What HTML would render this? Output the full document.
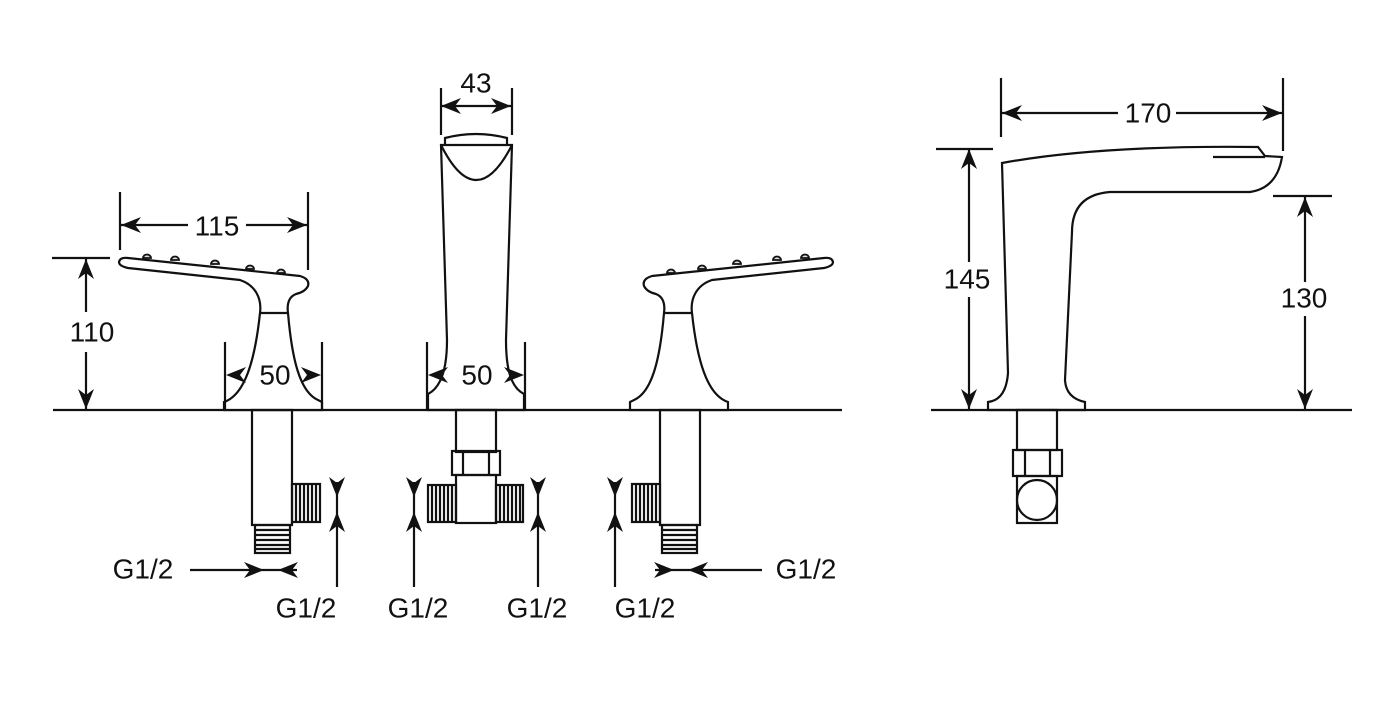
<!DOCTYPE html>
<html><head><meta charset="utf-8"><style>
html,body{margin:0;padding:0;background:#fff;}
svg{display:block;}
text{font-family:"Liberation Sans",Arial,sans-serif;font-size:28px;fill:#111;text-anchor:middle;dominant-baseline:central;}
</style></head><body>
<svg width="1398" height="703" viewBox="0 0 1398 703" xmlns="http://www.w3.org/2000/svg">
<defs>
<path id="ah" d="M0,0 L-20,-8 L-14,0 L-20,8 Z" fill="#111"/>
<g id="handle" fill="none" stroke="#111" stroke-width="2.2">
  <path d="M143,258 a4,3.5 0 0 1 8,0 Z M171,260 a4,3.5 0 0 1 8,0 Z M211,264 a4,3.5 0 0 1 8,0 Z M246,269 a4,3.5 0 0 1 8,0 Z M277,273 a4,3.5 0 0 1 8,0 Z" fill="#ddd" stroke-width="1.8"/>
  <path d="M128,258 L300,276 Q310,279 308,286 Q305,292 296,294 Q286,298 288,313 C292,360 300,392 318,400 L322,402 L322,410 L224,410 L224,402 C245,395 255,360 260,313 C262,298 255,285 240,280 L128,268 Q119,266 119,262 Q120,257 128,258 Z" fill="#fff"/>
  <path d="M260,313 L288,313"/>
  <rect x="252" y="410" width="40" height="115"/>
  <rect x="255" y="525" width="35" height="28"/>
  <path d="M255,530H290M255,535H290M255,540H290M255,545H290M255,549H290"/>
  <rect x="292" y="484" width="28" height="38"/>
  <path d="M296,484V522M300,484V522M304,484V522M308,484V522M312,484V522M316,484V522"/>
  <path d="M337,482 L337,587"/>
  <path d="M190,570 L297,570"/>
</g>
<g id="handleArrows">
  <use href="#ah" transform="translate(337,497) rotate(90)"/>
  <use href="#ah" transform="translate(337,512) rotate(-90)"/>
  <use href="#ah" transform="translate(264,570)"/>
  <use href="#ah" transform="translate(278,570) rotate(180)"/>
</g>
</defs>

<g stroke="#111" stroke-width="2.2" fill="none">
  <path d="M53,410 H842"/>
  <path d="M931,410 H1352"/>
</g>

<use href="#handle"/>
<use href="#handleArrows"/>
<g transform="matrix(-1 0 0 1 952 0)">
  <use href="#handle"/>
  <use href="#handleArrows"/>
</g>

<g fill="none" stroke="#111" stroke-width="2.2">
  <path d="M445,145 L445,138 Q476,130 507,138 L507,145"/>
  <path d="M441,145 L512,145 L506,340 C506,372 512,388 524,394 L524,410 L428,410 L428,394 C440,388 447,372 447,340 Z"/>
  <path d="M441,145 Q476,215 512,145"/>
  <rect x="456" y="410" width="40" height="42"/>
  <rect x="452" y="451" width="48" height="24"/>
  <path d="M463,451V475M489,451V475"/>
  <rect x="456" y="475" width="40" height="48"/>
  <rect x="428" y="485" width="28" height="37"/>
  <path d="M432,485V522M436,485V522M440,485V522M444,485V522M448,485V522M452,485V522"/>
  <rect x="496" y="485" width="27" height="37"/>
  <path d="M500,485V522M504,485V522M508,485V522M512,485V522M516,485V522M520,485V522"/>
  <path d="M414,482V587M538,482V587"/>
</g>
<use href="#ah" transform="translate(414,497) rotate(90)"/>
<use href="#ah" transform="translate(414,512) rotate(-90)"/>
<use href="#ah" transform="translate(538,497) rotate(90)"/>
<use href="#ah" transform="translate(538,512) rotate(-90)"/>

<g fill="none" stroke="#111" stroke-width="2.2">
  <path d="M120,192V250M308,192V270M121,225H188M246,225H307"/>
  <path d="M52,258H110M86,259V312M86,352V409"/>
  <path d="M225,342V410M322,342V410"/>
  <path d="M427,342V410M525,342V410"/>
  <path d="M441,88V135M512,88V135M441,106H511"/>
</g>
<use href="#ah" transform="translate(121,225) rotate(180)"/>
<use href="#ah" transform="translate(307,225)"/>
<use href="#ah" transform="translate(86,259) rotate(-90)"/>
<use href="#ah" transform="translate(86,409) rotate(90)"/>
<use href="#ah" transform="translate(226,375) rotate(180)"/>
<use href="#ah" transform="translate(321,375)"/>
<use href="#ah" transform="translate(428,375) rotate(180)"/>
<use href="#ah" transform="translate(524,375)"/>
<use href="#ah" transform="translate(441,106) rotate(180)"/>
<use href="#ah" transform="translate(511,106)"/>

<g fill="none" stroke="#111" stroke-width="2.2">
  <path d="M1002,163 Q1100,145 1258,147 L1265,156 L1282,157 Q1277,188 1250,192 L1110,192 Q1072,195 1072,232 L1065,380 Q1066,398 1085,402 L1085,410 L988,410 L988,402 Q1006,400 1008,373 Z"/>
  <path d="M1213,157 L1265,157"/>
  <rect x="1017" y="410" width="40" height="40"/>
  <rect x="1013" y="450" width="49" height="26"/>
  <path d="M1025,450V476M1050,450V476"/>
  <rect x="1017" y="476" width="40" height="47"/>
  <circle cx="1037" cy="500" r="20"/>
  <path d="M1001,78V137M1283,78V151M1002,113H1118M1176,113H1282"/>
  <path d="M936,149H993M969,150V262M969,297V409"/>
  <path d="M1273,196H1332M1305,197V282M1305,316V409"/>
</g>
<use href="#ah" transform="translate(1002,113) rotate(180)"/>
<use href="#ah" transform="translate(1282,113)"/>
<use href="#ah" transform="translate(969,149) rotate(-90)"/>
<use href="#ah" transform="translate(969,409) rotate(90)"/>
<use href="#ah" transform="translate(1305,197) rotate(-90)"/>
<use href="#ah" transform="translate(1305,409) rotate(90)"/>

<text x="217" y="226">115</text>
<text x="92" y="332">110</text>
<text x="275" y="375">50</text>
<text x="477" y="375">50</text>
<text x="476" y="83">43</text>
<text x="1148" y="113">170</text>
<text x="967" y="279">145</text>
<text x="1304" y="298">130</text>
<text x="143" y="569">G1/2</text>
<text x="806" y="569">G1/2</text>
<text x="306" y="608">G1/2</text>
<text x="418" y="608">G1/2</text>
<text x="537" y="608">G1/2</text>
<text x="645" y="608">G1/2</text>
</svg>
</body></html>
